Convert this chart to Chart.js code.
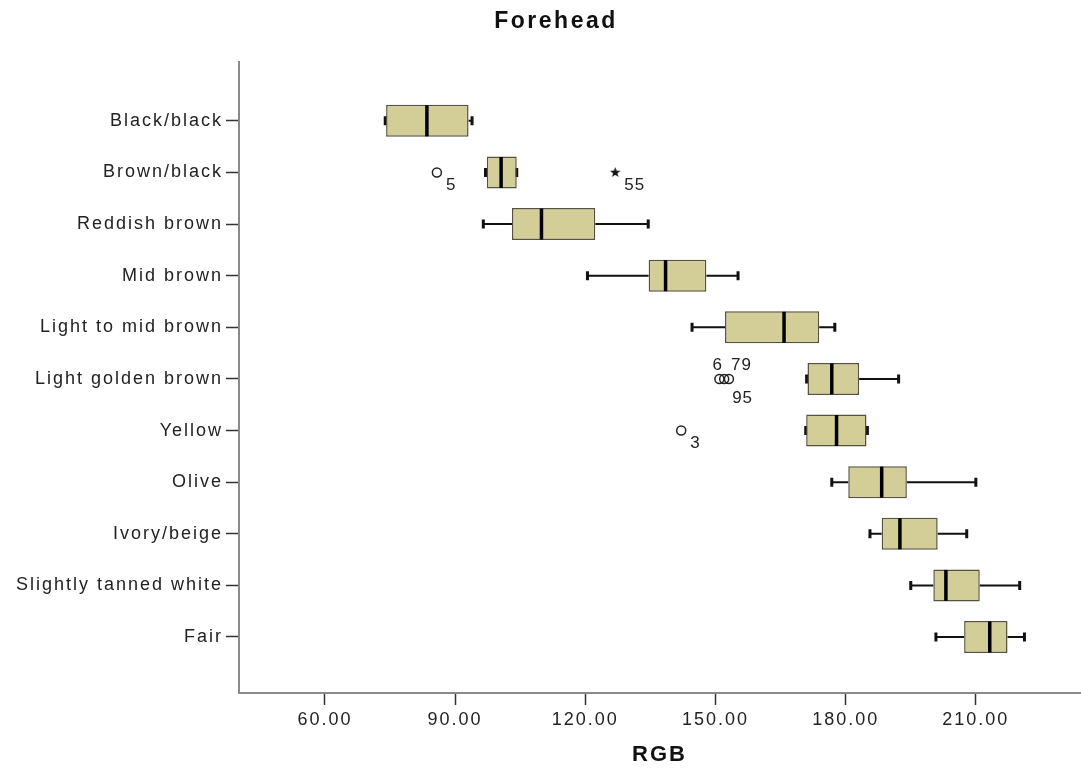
<!DOCTYPE html>
<html>
<head>
<meta charset="utf-8">
<title>Forehead</title>
<script src="https://cdn.jsdelivr.net/npm/chart.js@4.4.1/dist/chart.umd.min.js"></script>
<style>
  html, body { margin: 0; padding: 0; background: #fff; }
</style>
</head>
<body>
<canvas id="myChart" width="1081" height="769"></canvas>
<script>
var chartTitle = "Forehead";
var categories = ["Black/black", "Brown/black", "Reddish brown", "Mid brown", "Light to mid brown",
  "Light golden brown", "Yellow", "Olive", "Ivory/beige", "Slightly tanned white", "Fair"];
var lowWhisker  = [73.9, 97.0, 96.5, 120.5, 144.6, 171.0, 170.8, 176.8, 185.6, 195.0, 200.8];
var q1          = [74.1, 97.3, 103.1, 134.6, 152.2, 171.2, 170.9, 180.6, 188.3, 200.2, 207.3];
var median      = [83.5, 100.6, 109.9, 138.5, 165.8, 176.8, 177.9, 188.3, 192.5, 203.1, 213.2];
var q3          = [93.1, 104.2, 122.3, 147.9, 173.9, 183.1, 184.8, 194.1, 201.2, 210.9, 217.3];
var highWhisker = [93.9, 104.2, 134.5, 155.2, 177.5, 192.2, 185.0, 210.0, 207.9, 220.1, 221.2];

// outliers: category index, value, case number, kind (o = outlier, * = extreme)
var outlierCat  = [1, 1, 5, 5, 5, 6];
var outlierVal  = [85.8, 126.9, 150.9, 153.1, 152.0, 142.1];
var outlierId   = ["5", "55", "6", "79", "95", "3"];
var outlierKind = ["o", "*", "o", "o", "o", "o"];

var xTicks = [60, 90, 120, 150, 180, 210];

var FONT = "'Liberation Sans', Arial, sans-serif";

// case-number label nudges (pixels) where points crowd together
var idNudge = {
  "6":  { dx: -7, dy: -14 },
  "79": { dx: 2,  dy: -14 },
  "95": { dx: 8,  dy: 19 }
};

function makeStar(size) {
  var c = document.createElement("canvas");
  c.width = size; c.height = size;
  var g = c.getContext("2d");
  var R = size / 2, r = R * 0.42;
  g.beginPath();
  for (var k = 0; k < 10; k++) {
    var rad = k % 2 ? r : R;
    var a = -Math.PI / 2 + k * Math.PI / 5;
    g.lineTo(R + rad * Math.cos(a), R + rad * Math.sin(a));
  }
  g.closePath();
  g.fillStyle = "#111";
  g.fill();
  return c;
}
var star = makeStar(11);

function spacing(chart) { chart.ctx.letterSpacing = "2px"; }

var boxParts = {
  id: "boxParts",
  beforeUpdate: spacing,
  beforeLayout: spacing,
  beforeDraw: spacing,
  beforeDatasetsDraw: function (chart) {
    var ctx = chart.ctx, x = chart.scales.x, y = chart.scales.y;
    ctx.save();
    ctx.strokeStyle = "#111";
    categories.forEach(function (c, i) {
      var py = y.getPixelForValue(i);
      var lo = x.getPixelForValue(lowWhisker[i]), hi = x.getPixelForValue(highWhisker[i]);
      var a = x.getPixelForValue(q1[i]), b = x.getPixelForValue(q3[i]);
      ctx.lineWidth = 2;
      ctx.beginPath();
      ctx.moveTo(lo, py); ctx.lineTo(a, py);
      ctx.moveTo(b, py); ctx.lineTo(hi, py);
      ctx.stroke();
      ctx.lineWidth = 3;
      ctx.beginPath();
      ctx.moveTo(lo, py - 4.5); ctx.lineTo(lo, py + 4.5);
      ctx.moveTo(hi, py - 4.5); ctx.lineTo(hi, py + 4.5);
      ctx.stroke();
    });
    ctx.restore();
  },
  afterDatasetsDraw: function (chart) {
    var ctx = chart.ctx, x = chart.scales.x, y = chart.scales.y;
    var meta = chart.getDatasetMeta(0);
    ctx.save();
    ctx.strokeStyle = "#000";
    ctx.lineWidth = 3.5;
    meta.data.forEach(function (bar, i) {
      var half = bar.height / 2 - 0.5;
      var px = x.getPixelForValue(median[i]);
      ctx.beginPath();
      ctx.moveTo(px, bar.y - half);
      ctx.lineTo(px, bar.y + half);
      ctx.stroke();
    });
    // case numbers beside outliers
    ctx.fillStyle = "#222";
    ctx.font = "17px " + FONT;
    ctx.letterSpacing = "1px";
    ctx.textAlign = "left";
    ctx.textBaseline = "middle";
    outlierId.forEach(function (id, k) {
      var n = idNudge[id] || { dx: 9, dy: 13 };
      var px = x.getPixelForValue(outlierVal[k]);
      var py = y.getPixelForValue(outlierCat[k]);
      ctx.fillText(id, px + n.dx, py + n.dy);
    });
    ctx.restore();
  },
  afterDraw: function (chart) {
    // heading sits a little right of the canvas centre
    var ctx = chart.ctx;
    ctx.save();
    ctx.font = "bold 23px " + FONT;
    ctx.letterSpacing = "2.5px";
    ctx.fillStyle = "#111";
    ctx.textAlign = "center";
    ctx.textBaseline = "middle";
    ctx.fillText(chartTitle, 556, 22);
    ctx.restore();
  }
};

new Chart("myChart", {
  type: "bar",
  data: {
    datasets: [{
      type: "bar",
      data: categories.map(function (c, i) { return { x: [q1[i], q3[i]], y: i }; }),
      backgroundColor: "#d3cd98",
      borderColor: "#55533f",
      borderWidth: 1.5,
      borderSkipped: false,
      barPercentage: 0.62,
      categoryPercentage: 1
    }, {
      type: "scatter",
      data: outlierVal.map(function (v, k) { return { x: v, y: outlierCat[k] }; }),
      pointStyle: function (c) { return outlierKind[c.dataIndex] === "*" ? star : "circle"; },
      pointRadius: 4.5,
      backgroundColor: "rgba(255,255,255,0)",
      borderColor: "#222",
      borderWidth: 1.5
    }]
  },
  options: {
    indexAxis: "y",
    responsive: false,
    animation: false,
    devicePixelRatio: 1,
    layout: { autoPadding: false, padding: { left: 0, right: 1, top: 62, bottom: 0 } },
    plugins: {
      legend: { display: false },
      tooltip: { enabled: false },
      title: { display: false }
    },
    scales: {
      x: {
        type: "linear",
        min: 40.2,
        max: 234,
        afterBuildTicks: function (s) { s.ticks = xTicks.map(function (v) { return { value: v }; }); },
        afterFit: function (s) { s.height = 76; },
        ticks: {
          callback: function (v) { return v.toFixed(2); },
          color: "#222",
          font: { family: FONT, size: 18 },
          padding: 4,
          maxRotation: 0,
          autoSkip: false
        },
        grid: { drawOnChartArea: false, tickLength: 12, tickColor: "#333", tickWidth: 1.5 },
        border: { display: true, color: "#8a8a8a", width: 2 },
        title: {
          display: true,
          text: "RGB",
          color: "#111",
          font: { family: FONT, size: 22, weight: "bold" },
          padding: { top: 0, bottom: 1 }
        }
      },
      y: {
        type: "linear",
        reverse: true,
        offset: false,
        min: -1.14,
        max: 11.085,
        afterBuildTicks: function (s) { s.ticks = categories.map(function (c, i) { return { value: i }; }); },
        afterFit: function (s) { s.width = 239; },
        ticks: {
          callback: function (v) { return categories[v]; },
          color: "#222",
          font: { family: FONT, size: 18 },
          padding: 3,
          autoSkip: false
        },
        grid: { offset: false, drawOnChartArea: false, tickLength: 13, tickColor: "#333", tickWidth: 1.5 },
        border: { display: true, color: "#8a8a8a", width: 2 }
      }
    }
  },
  plugins: [boxParts]
});
</script>
</body>
</html>
